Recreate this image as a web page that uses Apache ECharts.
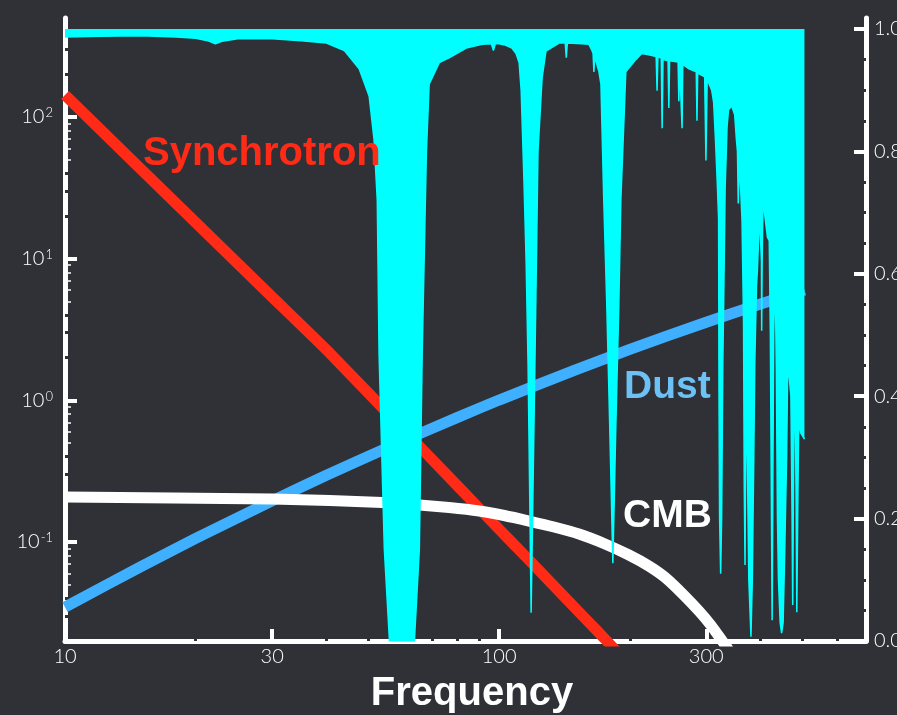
<!DOCTYPE html>
<html><head><meta charset="utf-8">
<script src="https://cdn.jsdelivr.net/npm/echarts@6/dist/echarts.min.js"></script>
<style>html,body{margin:0;padding:0;background:#2f3136;}#c{width:897px;height:715px;}</style>
</head><body><div id="c"></div>
<script>
// ---- tick values ----
const xTickValues = [10, 30, 100, 300];
const xMinorTicks = [20, 40, 50, 60, 70, 80, 90, 200, 400, 500, 600];
const yLeftTicks = [0.1, 1, 10, 100];
const yLeftMinorLight = [0.05, 0.06, 0.07, 0.08, 0.09, 0.5, 0.6, 0.7, 0.8, 0.9, 5, 6, 7, 8, 9, 50, 60, 70, 80, 90];
const yLeftMinorDark = [0.03, 0.04, 0.2, 0.3, 0.4, 2, 3, 4, 20, 30, 40, 200, 300, 400];
const yRightTicks = [0, 0.2, 0.4, 0.6, 0.8, 1.0];
const yRightMinor = [0.05, 0.1, 0.15, 0.25, 0.3, 0.35, 0.45, 0.5, 0.55, 0.65, 0.7, 0.75, 0.85, 0.9, 0.95];

// ---- series values ----
const synchFreq  = [10, 20, 30, 40.7, 60, 80, 100, 117.2, 150, 170, 200];
const synchValue = [143, 18.0, 5.36, 2.16, 0.627, 0.251, 0.123, 0.0746, 0.0339, 0.0228, 0.0135];

const dustFreq  = [10, 15, 20, 30, 40, 60, 80, 100, 150, 200, 300, 400, 505];
const dustValue = [0.0347, 0.0673, 0.106, 0.195, 0.296, 0.517, 0.755, 1.005, 1.64, 2.29, 3.56, 4.78, 6.01];

const cmbFreq  = [10, 30, 40.7, 53.8, 65.5, 76.7, 89.9, 102.7, 117.2, 133.8, 152.8, 174.3, 199.1, 221.2, 242.1, 266.3, 288.4, 307.3, 325.6, 337.9];
const cmbValue = [0.2077, 0.2011, 0.1963, 0.190, 0.1824, 0.1751, 0.1655, 0.1538, 0.1406, 0.1276, 0.1138, 0.0976, 0.0809, 0.0677, 0.0557, 0.0422, 0.0326, 0.0259, 0.0203, 0.0173];

const transFreq = [
  10, 12, 15, 18, 20, 21.3, 22.2, 23, 25, 30, 35, 40, 44, 47.6, 50.2, 51.5, 52.4, 52.9, 54.4, 55.9,
  63.8, 65.5, 66.5, 68, 69, 72.8, 76.7, 84, 91.4, 96, 97, 98, 100, 103, 107, 109.4, 111.2, 112.4,
  114.1, 115.4, 116.6, 117.8, 118.5, 119.7, 121, 122.9, 125.6, 128.2, 137.4, 142, 142.8, 143.6, 155,
  161, 163.6, 164.6, 165.3, 166, 169.8, 171.6, 174.2, 177, 179.8, 182.8, 185.7, 188.7, 190.7, 195.8,
  206.5, 213, 221, 230, 231.1, 232.2, 236.3, 237.4, 238.5, 245, 246, 247, 258.4, 259.4, 260.4,
  262.9, 263.9, 264.9, 273.6, 284.5, 285.6, 286.7, 297.5, 299.5, 301.5, 304, 308.8, 312, 315, 318,
  320.3, 321, 322, 323.8, 325.5, 327.5, 329, 331.6, 335, 337.6, 343.4, 348.8, 352, 354, 355.5, 357,
  360, 362.7, 365.6, 367, 368.5, 369.8, 371.5, 373, 376, 380.3, 383, 386, 388, 391.6, 393.5, 398,
  400.5, 402, 402.5, 403.5, 405, 406.5, 408.5, 415, 419, 421.5, 424, 425.5, 427, 429, 430.9, 433,
  435, 437.7, 440, 444, 447.4, 451, 455, 459.4, 462, 466, 470, 473, 474.5, 476.5, 478, 481, 483,
  485, 488, 490, 495, 500, 505
];
const transValue = [
  0.987, 0.988, 0.989, 0.987, 0.985, 0.981, 0.976, 0.980, 0.984, 0.984, 0.981, 0.977, 0.965, 0.935, 0.89, 0.82, 0.72, 0.47, 0.15, 0.0,
  0.0, 0.15, 0.47, 0.80, 0.91, 0.945, 0.953, 0.969, 0.975, 0.976, 0.965, 0.976, 0.976, 0.974, 0.969, 0.960, 0.945, 0.90,
  0.75, 0.62, 0.45, 0.20, 0.046, 0.25, 0.47, 0.80, 0.92, 0.964, 0.977, 0.977, 0.953, 0.977, 0.976,
  0.975, 0.965, 0.96, 0.93, 0.955, 0.93, 0.91, 0.72, 0.55, 0.35, 0.127, 0.35, 0.55, 0.72, 0.93,
  0.95, 0.96, 0.958, 0.955, 0.899, 0.955, 0.952, 0.838, 0.950, 0.948, 0.871, 0.948, 0.946, 0.882, 0.945,
  0.944, 0.838, 0.942, 0.935, 0.93, 0.85, 0.928, 0.922, 0.785, 0.918, 0.915, 0.90, 0.88, 0.82, 0.75,
  0.69, 0.40, 0.20, 0.11, 0.20, 0.45, 0.55, 0.74, 0.84, 0.868, 0.874, 0.86, 0.82, 0.80, 0.715, 0.78,
  0.74, 0.687, 0.52, 0.25, 0.124, 0.30, 0.40, 0.30, 0.10, 0.007, 0.10, 0.30, 0.45, 0.58, 0.605, 0.698,
  0.70, 0.62, 0.507, 0.62, 0.70, 0.752, 0.70, 0.66, 0.654, 0.50, 0.20, 0.034, 0.25, 0.50, 0.568, 0.56,
  0.45, 0.20, 0.10, 0.03, 0.013, 0.03, 0.15, 0.30, 0.437, 0.43, 0.40, 0.20, 0.059, 0.25, 0.38, 0.37, 0.25,
  0.047, 0.25, 0.36, 0.34, 0.34, 0.33
];

const BG = '#2f3136';
const WHITE = '#ffffff';
const RED = '#ff2b17';
const BLUE = '#3fb0ff';
const CYAN = '#00ffff';
const TICKFONT = 'Lato, "Open Sans", sans-serif';
const BOLDFONT = '"Liberation Sans", Arial, Helvetica, sans-serif';

const zip = (a, b) => a.map((v, i) => [v, b[i]]);

const chart = echarts.init(document.getElementById('c'), null, {renderer: 'canvas'});

function overlayAxis(base, extra) {
  return Object.assign({
    axisLine: {show: false},
    axisLabel: {show: false},
    splitLine: {show: false},
    minorTick: {show: false},
    z: 1
  }, base, extra);
}

const option = {
  backgroundColor: BG,
  animation: false,
  grid: {left: 65, right: 31, top: 18, bottom: 74, containLabel: false, outerBoundsMode: 'none'},
  xAxis: [
    {
      type: 'log', logBase: 10, min: 10, max: 700, position: 'bottom',
      axisLine: {show: true, lineStyle: {color: WHITE, width: 5}},
      axisTick: {show: true, inside: true, length: 12, lineStyle: {color: WHITE, width: 4}, customValues: xTickValues},
      axisLabel: {show: true, customValues: xTickValues, color: WHITE, fontSize: 20, fontFamily: TICKFONT, fontWeight: 300, margin: 6,
                  formatter: v => String(Math.round(v))},
      splitLine: {show: false}, minorTick: {show: false}
    },
    overlayAxis({type: 'log', logBase: 10, min: 10, max: 700, position: 'bottom'},
      {axisTick: {show: true, inside: true, length: 3, lineStyle: {color: BG, width: 3}, customValues: xMinorTicks}})
  ],
  yAxis: [
    {
      type: 'log', logBase: 10, min: 0.02, max: 500, position: 'left',
      axisLine: {show: true, lineStyle: {color: WHITE, width: 5}},
      axisTick: {show: true, inside: true, length: 12, lineStyle: {color: WHITE, width: 4}, customValues: yLeftTicks},
      axisLabel: {
        show: true, customValues: yLeftTicks, margin: 12,
        formatter: v => '{b|10}{s|' + Math.round(Math.log10(v)) + '}',
        rich: {
          b: {color: WHITE, fontSize: 20, fontFamily: TICKFONT, fontWeight: 300},
          s: {color: WHITE, fontSize: 13, fontFamily: TICKFONT, fontWeight: 300, verticalAlign: 'top', padding: [0, 0, 8, 1]}
        }
      },
      splitLine: {show: false}, minorTick: {show: false}
    },
    {
      type: 'value', min: 0, max: 1.018, position: 'right',
      axisLine: {show: true, lineStyle: {color: WHITE, width: 5}},
      axisTick: {show: true, inside: true, length: 12, lineStyle: {color: WHITE, width: 4}, customValues: yRightTicks},
      axisLabel: {show: true, customValues: yRightTicks, color: WHITE, fontSize: 20, fontFamily: TICKFONT, fontWeight: 300, margin: 8,
                  formatter: v => v.toFixed(1)},
      splitLine: {show: false}, minorTick: {show: false}
    },
    overlayAxis({type: 'log', logBase: 10, min: 0.02, max: 500, position: 'left'},
      {axisTick: {show: true, inside: true, length: 6, lineStyle: {color: WHITE, width: 1.5}, customValues: yLeftMinorLight}}),
    overlayAxis({type: 'log', logBase: 10, min: 0.02, max: 500, position: 'left'},
      {axisTick: {show: true, inside: true, length: 3, lineStyle: {color: BG, width: 3}, customValues: yLeftMinorDark}}),
    overlayAxis({type: 'value', min: 0, max: 1.018, position: 'right'},
      {axisTick: {show: true, inside: true, length: 3, lineStyle: {color: BG, width: 3}, customValues: yRightMinor}})
  ],
  series: [
    {type: 'line', name: 'Synchrotron', xAxisIndex: 0, yAxisIndex: 0, data: zip(synchFreq, synchValue),
     symbol: 'none', smooth: 0.15, lineStyle: {color: RED, width: 11}, z: 2, clip: true},
    {type: 'line', name: 'Dust', xAxisIndex: 0, yAxisIndex: 0, data: zip(dustFreq, dustValue),
     symbol: 'none', smooth: 0.2, lineStyle: {color: BLUE, width: 11}, z: 2, clip: true},
    {type: 'line', name: 'CMB', xAxisIndex: 0, yAxisIndex: 0, data: zip(cmbFreq, cmbValue),
     symbol: 'none', smooth: 0.2, lineStyle: {color: WHITE, width: 11}, z: 2, clip: true},
    {type: 'line', name: 'Transmission', xAxisIndex: 0, yAxisIndex: 1, data: zip(transFreq, transValue),
     symbol: 'none', lineStyle: {color: CYAN, width: 1.5}, areaStyle: {color: CYAN, opacity: 1, origin: 1}, z: 3, clip: true}
  ],
  graphic: [
    {type: 'text', x: 143, y: 154, z: 10, style: {text: 'Synchrotron', fill: RED, font: 'bold 40px ' + BOLDFONT, align: 'left', verticalAlign: 'middle', textAlign: 'left', textVerticalAlign: 'middle'}},
    {type: 'text', x: 624, y: 387, z: 10, style: {text: 'Dust', fill: '#6cc1f5', font: 'bold 39px ' + BOLDFONT, align: 'left', verticalAlign: 'middle', textAlign: 'left', textVerticalAlign: 'middle'}},
    {type: 'text', x: 623, y: 516, z: 10, style: {text: 'CMB', fill: WHITE, font: 'bold 39px ' + BOLDFONT, align: 'left', verticalAlign: 'middle', textAlign: 'left', textVerticalAlign: 'middle'}},
    {type: 'text', x: 472, y: 694, z: 10, style: {text: 'Frequency', fill: WHITE, font: 'bold 40px ' + BOLDFONT, align: 'center', verticalAlign: 'middle', textAlign: 'center', textVerticalAlign: 'middle'}}
  ]
};
chart.setOption(option);
</script>
</body></html>
